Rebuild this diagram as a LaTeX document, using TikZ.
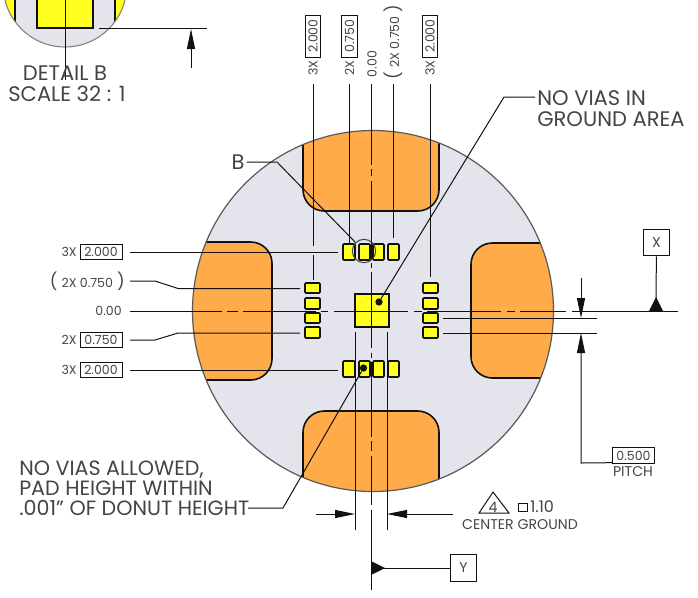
\documentclass[tikz,border=0pt]{standalone}
\usepackage{fontspec}
\setmainfont{Poppins}
\usetikzlibrary{arrows.meta}
\definecolor{plate}{HTML}{E4E5EC}
\definecolor{orangepad}{HTML}{FFAB4A}
\definecolor{yellowpad}{HTML}{FFFF20}
\definecolor{ink}{HTML}{111111}
\definecolor{txt}{HTML}{444444}
\tikzset{
  thinl/.style={draw=ink,line width=0.75pt},
  padl/.style={draw=ink,line width=1.2pt,fill=orangepad,rounded corners=16pt},
  smallpad/.style={draw=ink,line width=1.2pt,fill=yellowpad,rounded corners=0.8pt},
  dimtip/.style={-{Triangle[length=15pt,width=6pt]},thinl},
  small/.style={text=txt,font=\fontsize{9.4}{10}\selectfont,inner sep=0pt},
  wide/.style={text=txt,font=\fontsize{10.6}{11}\selectfont,inner sep=0pt},
  big/.style={text=txt,font=\fontsize{15.8}{15}\selectfont,inner sep=0pt,align=left},
  dimbox/.style={small,draw=ink,line width=0.75pt,minimum width=31.5pt,minimum height=11.5pt,inner sep=0pt},
  vdimbox/.style={dimbox,rotate=90},
  datum/.style={wide,draw=ink,line width=0.75pt,minimum size=20pt},
  dot/.style={circle,fill=ink,inner sep=0pt,minimum size=5.5pt}
}
\newcommand{\bigparen}[1]{{\fontsize{12.5}{12}\selectfont #1}}
\begin{document}
\begin{tikzpicture}[x=0.75pt,y=-0.75pt]
\useasboundingbox (0,0) rectangle (698,597);
% detail B
\begin{scope}
  \clip (0,0) rectangle (698,597);
  \fill[yellowpad] (65,-14.8) circle[radius=61.8];
  \begin{scope}
    \clip (65,-14.8) circle[radius=61.8];
    \fill[plate] (15,-20) rectangle (115,60);
    \draw[line width=1.2pt,draw=ink] (15,-5) -- (15,25);
    \draw[line width=1.2pt,draw=ink] (115,-5) -- (115,25);
    \draw[smallpad,rounded corners=0pt] (37,-5) rectangle (93,28);
  \end{scope}
  \draw[draw=gray,line width=0.8pt] (65,-14.8) circle[radius=61.8];
\end{scope}
\coordinate (detailtop) at (65,0);
\coordinate (detailend) at (65,80);
\draw[thinl] (detailtop) -- (detailend);
\coordinate (dbA) at (99,28.5); \coordinate (dbB) at (207,28.5);
\draw[thinl] (dbA) -- (dbB);
\coordinate (dbtail) at (191,68); \coordinate (dbtip) at (191,29);
\draw[dimtip] (dbtail) -- (dbtip);
\node[big] (detailb) at (65,73) {DETAIL B};
\node[big] (scaleb) at (67,94) {SCALE 32 : 1};

% plate
\node[circle,fill=plate,inner sep=0pt,minimum size=270.75pt] (plate) at (373,311) {};
\begin{scope}
  \clip (373,311) circle[radius=180.5];
  \path[padl] (303,100) -- (303,211) -- (439,211) -- (439,100) -- cycle;
  \path[padl] (303,520) -- (303,411) -- (439,411) -- (439,520) -- cycle;
  \path[padl] (170,242) -- (272,242) -- (272,380) -- (170,380) -- cycle;
  \path[padl] (570,243) -- (471,243) -- (471,378) -- (570,378) -- cycle;
\end{scope}
\draw[draw=gray!70!black,line width=0.9pt] (373,311) circle[radius=180.5];

% center ground
\draw[smallpad,rounded corners=0pt] (355,294) rectangle (389,327);
\foreach \n/\a/\b in {t1/343/355,t2/359/370,t3/373/384,t4/388/399}{
  \draw[smallpad] (\a,244) rectangle (\b,260);
}
\foreach \n/\a/\b in {b1/343/355,b2/359/370,b3/373/384,b4/388/399}{
  \draw[smallpad] (\a,361) rectangle (\b,377);
}
\foreach \a/\b in {283/293,298/309,313/323,327/338}{
  \draw[smallpad] (305,\a) rectangle (320,\b);
  \draw[smallpad] (423,\a) rectangle (438,\b);
}

% centre lines
\foreach \a/\b in {84/165,169/176,181/260,263/268,272/348,353/358,362/437,441/451,456/505,510/590}{
  \draw[thinl] (371,\a) -- (371,\b);
}
\foreach \a/\b in {130/222,227/238,243/316,321/328,334/408,414/422,427/501,507/515,520/566,572/678}{
  \draw[thinl] (\a,311) -- (\b,311);
}

% top dimension labels
\node[vdimbox] (t1box) at (313,36) {2.000};
\node[small,rotate=90] (t1x) at (313,68) {3X};
\node[vdimbox] (t2box) at (349.5,36) {0.750};
\node[small,rotate=90] (t2x) at (349.5,68) {2X};
\node[small,rotate=90] (t3) at (372,64) {0.00};
\node[small,rotate=90] (t4) at (393,42) {\bigparen{(}\,\,2X 0.750\,\,\bigparen{)}};
\node[vdimbox] (t5box) at (430,36) {2.000};
\node[small,rotate=90] (t5x) at (430,68) {3X};
\coordinate (e1a) at (313,84); \coordinate (e1b) at (313,246);
\coordinate (e1c) at (313,255); \coordinate (e1d) at (313,280);
\draw[thinl] (e1a) -- (e1b) (e1c) -- (e1d);
\coordinate (e2a) at (349,84); \coordinate (e2b) at (349,243);
\draw[thinl] (e2a) -- (e2b);
\coordinate (e4a) at (393.5,84); \coordinate (e4b) at (393.5,238);
\draw[thinl] (e4a) -- (e4b);
\coordinate (e5a) at (430,84); \coordinate (e5b) at (430,277);
\draw[thinl] (e5a) -- (e5b);

% left dimension labels
\node[dimbox] (l1box) at (101,252) {2.000};
\node[small,anchor=east] (l1x) at (77,252) {3X};
\node[small,anchor=east] (l2) at (125,281.5) {\bigparen{(}\,\,2X 0.750\,\,\bigparen{)}};
\node[small,anchor=east] (l3) at (122,311) {0.00};
\node[dimbox] (l4box) at (101,340) {0.750};
\node[small,anchor=east] (l4x) at (77,340) {2X};
\node[dimbox] (l5box) at (101,370) {2.000};
\node[small,anchor=east] (l5x) at (77,370) {3X};
\coordinate (r1a) at (130,252); \coordinate (r1b) at (338,252);
\draw[thinl] (r1a) -- (r1b);
\coordinate (r2a) at (130,281); \coordinate (r2b) at (155,281); \coordinate (r2c) at (178,288.5); \coordinate (r2d) at (300,288.5);
\draw[thinl] (r2a) -- (r2b) -- (r2c) -- (r2d);
\coordinate (r4a) at (130,340); \coordinate (r4b) at (155,340); \coordinate (r4c) at (178,333); \coordinate (r4d) at (300,333);
\draw[thinl] (r4a) -- (r4b) -- (r4c) -- (r4d);
\coordinate (r5a) at (130,370); \coordinate (r5b) at (338,370);
\draw[thinl] (r5a) -- (r5b);

% detail circle and B
\node[circle,draw=ink!80,line width=0.75pt,inner sep=0pt,minimum size=17.5pt] (bcircle) at (364,251) {};
\node[big] (blabel) at (238,162) {B};
\coordinate (bknee) at (277,162);
\draw[thinl] (blabel.east) ++(2,0) -- (bknee) -- (bcircle.135);

% notes
\node[big,anchor=west,font=\fontsize{15.8}{15.8}\selectfont] (novias) at (537,108.5) {NO VIAS IN\\GROUND AREA};
\coordinate (nvknee) at (504,97);
\coordinate (nvend) at (535,97);
\node[dot] (gdot) at (379,302) {};
\draw[thinl] (gdot) -- (nvknee) -- (nvend);
\node[big,anchor=west,font=\fontsize{15.5}{15}\selectfont] (allowed) at (19,488) {NO VIAS ALLOWED,\\PAD HEIGHT WITHIN\\.001" OF DONUT HEIGHT};
\coordinate (alknee) at (283,508);
\coordinate (alend) at (248,508);
\node[dot] (bdot) at (363.5,368) {};
\draw[thinl] (bdot) -- (alknee) -- (alend);

% bottom width dimension
\coordinate (w1a) at (355,332); \coordinate (w1b) at (355,530);
\coordinate (w2a) at (387,332); \coordinate (w2b) at (387,530);
\draw[thinl] (w1a) -- (w1b) (w2a) -- (w2b);
\coordinate (w1t) at (316,514); \coordinate (w1h) at (355,514);
\coordinate (w2t) at (453,514); \coordinate (w2h) at (387,514);
\draw[dimtip] (w1t) -- (w1h);
\draw[dimtip] (w2t) -- (w2h);

% center ground note
\coordinate (tA) at (493,492); \coordinate (tB) at (479,513); \coordinate (tC) at (509,513);
\draw[draw=ink,line width=0.75pt] (tA) -- (tB) -- (tC) -- cycle;
\node[wide] (four) at (493,507) {4};
\draw[draw=ink,line width=0.75pt] (518.5,503) rectangle (527,511);
\node[wide,anchor=west,font=\fontsize{12}{12}\selectfont] (area) at (530,507) {1.10};
\node[wide] (cg) at (520,524.5) {CENTER GROUND};

% datums
\node[datum] (xbox) at (656.5,242.5) {X};
\coordinate (xfoot) at (656,300);
\draw[thinl] (xbox) -- (xfoot);
\fill[ink] (649,311) -- (656,297) -- (663,311) -- cycle;
\node[datum] (ybox) at (463.5,568) {Y};
\coordinate (yfoot) at (380,568);
\draw[thinl] (ybox) -- (yfoot);
\fill[ink] (371,561) -- (385,568) -- (371,575) -- cycle;

% pitch
\coordinate (p1a) at (443,318); \coordinate (p1b) at (597,318);
\coordinate (p2a) at (443,333); \coordinate (p2b) at (597,333);
\draw[thinl] (p1a) -- (p1b) (p2a) -- (p2b);
\coordinate (patail) at (581,278); \coordinate (patip) at (581,318);
\draw[dimtip] (patail) -- (patip);
\node[dimbox] (pitchbox) at (633.5,455.5) {0.500};
\node[wide] (pitch) at (633,472) {PITCH};
\coordinate (pbknee) at (581,463);
\coordinate (pbtip) at (581,333);
\draw[dimtip] (pitchbox.south west) ++(0,-1) -- (pbknee) -- (pbtip);
\end{tikzpicture}
\end{document}
